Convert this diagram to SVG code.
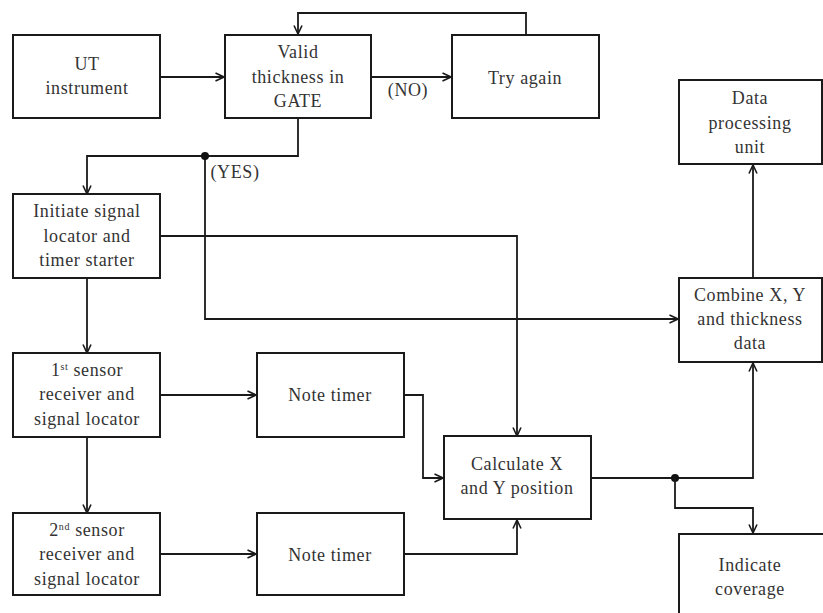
<svg xmlns="http://www.w3.org/2000/svg" width="823" height="613" viewBox="0 0 823 613">
<style>
.box{fill:#fff;stroke:#1a1a1a;stroke-width:2}
.ln{fill:none;stroke:#1a1a1a;stroke-width:1.8}
text{font-family:"Liberation Serif","Times New Roman","DejaVu Serif",serif;font-size:18px;letter-spacing:0.6px;fill:#333;text-anchor:middle}
.sup{font-size:10px}
</style>
<defs>
<marker id="ar" viewBox="0 0 10 10" refX="9.5" refY="5" markerWidth="10" markerHeight="10" markerUnits="userSpaceOnUse" orient="auto">
<path d="M1,1 L9.5,5 L1,9" fill="none" stroke="#1a1a1a" stroke-width="1.6"/>
</marker>
</defs>
<rect width="823" height="613" fill="#fff"/>
<g id="connectors">
<path class="ln" d="M160,77 H224" marker-end="url(#ar)"/>
<path class="ln" d="M371,77 H451" marker-end="url(#ar)"/>
<path class="ln" d="M526,35 V13 H298 V34" marker-end="url(#ar)"/>
<path class="ln" d="M298,118 V156 H87 V194" marker-end="url(#ar)"/>
<path class="ln" d="M205,156 V319 H678" marker-end="url(#ar)"/>
<circle cx="205" cy="156" r="4" fill="#111"/>
<path class="ln" d="M160,236 H517 V436" marker-end="url(#ar)"/>
<path class="ln" d="M87,278 V353" marker-end="url(#ar)"/>
<path class="ln" d="M87,437 V513" marker-end="url(#ar)"/>
<path class="ln" d="M160,395 H256" marker-end="url(#ar)"/>
<path class="ln" d="M160,554 H256" marker-end="url(#ar)"/>
<path class="ln" d="M404,395 H423 V478 H443" marker-end="url(#ar)"/>
<path class="ln" d="M404,554 H517 V520" marker-end="url(#ar)"/>
<path class="ln" d="M591,478 H753 V363" marker-end="url(#ar)"/>
<circle cx="675" cy="478" r="4" fill="#111"/>
<path class="ln" d="M675,478 V508 H753 V533" marker-end="url(#ar)"/>
<path class="ln" d="M753,278 V165" marker-end="url(#ar)"/>
<text x="408" y="96">(NO)</text>
<text x="235" y="178">(YES)</text>
</g>
<g id="ut"><rect class="box" x="13" y="35" width="147" height="83"/><text x="87" y="70">UT</text><text x="87" y="94">instrument</text></g>
<g id="valid"><rect class="box" x="225" y="35" width="146" height="83"/><text x="298" y="58">Valid</text><text x="298" y="83">thickness in</text><text x="298" y="107">GATE</text></g>
<g id="try"><rect class="box" x="452" y="35" width="147" height="83"/><text x="525" y="84">Try again</text></g>
<g id="dpu"><rect class="box" x="679" y="80" width="143" height="84"/><text x="750" y="104">Data</text><text x="750" y="129">processing</text><text x="750" y="153">unit</text></g>
<g id="initiate"><rect class="box" x="13" y="194" width="147" height="84"/><text x="87" y="217">Initiate signal</text><text x="87" y="242">locator and</text><text x="87" y="266">timer starter</text></g>
<g id="combine"><rect class="box" x="679" y="278" width="143" height="84"/><text x="750" y="301">Combine X, Y</text><text x="750" y="325">and thickness</text><text x="750" y="349">data</text></g>
<g id="s1"><rect class="box" x="13" y="353" width="147" height="84"/><text x="87" y="376">1<tspan class="sup" dy="-6">st</tspan><tspan dy="6"> sensor</tspan></text><text x="87" y="400">receiver and</text><text x="87" y="425">signal locator</text></g>
<g id="nt1"><rect class="box" x="257" y="353" width="147" height="84"/><text x="330" y="401">Note timer</text></g>
<g id="calc"><rect class="box" x="444" y="436" width="147" height="83"/><text x="517" y="470">Calculate X</text><text x="517" y="494">and Y position</text></g>
<g id="s2"><rect class="box" x="13" y="513" width="147" height="82"/><text x="87" y="536">2<tspan class="sup" dy="-6">nd</tspan><tspan dy="6"> sensor</tspan></text><text x="87" y="560">receiver and</text><text x="87" y="585">signal locator</text></g>
<g id="nt2"><rect class="box" x="257" y="513" width="147" height="82"/><text x="330" y="561">Note timer</text></g>
<g id="indicate"><rect class="box" x="679" y="534" width="160" height="100"/><text x="750" y="571">Indicate</text><text x="750" y="595">coverage</text></g>
</svg>
